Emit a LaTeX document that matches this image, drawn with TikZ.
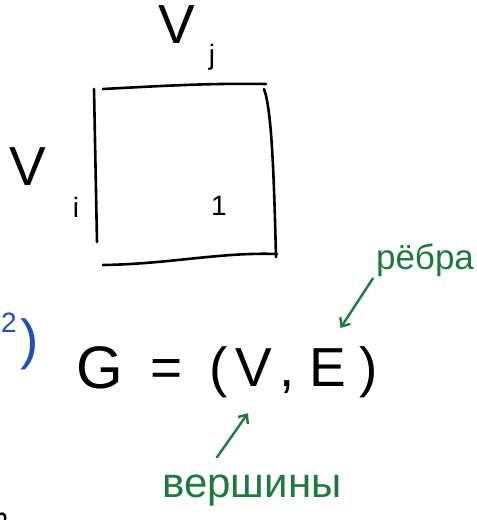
\documentclass[tikz,border=0pt]{standalone}
\usepackage{fontspec}
\setmainfont{Liberation Sans}
\usetikzlibrary{arrows.meta}
\definecolor{inkgreen}{RGB}{30,122,60}
\definecolor{inkblue}{RGB}{30,80,190}

\begin{document}
\begin{tikzpicture}[x=1pt, y=-1pt, line cap=round, line join=round,
	every node/.style={inner sep=0pt, anchor=base},
	big/.style={font=\fontsize{55}{60}\selectfont},
	small/.style={font=\fontsize{28}{32}\selectfont},
	note/.style={inkgreen, font=\fontsize{35}{38}\selectfont},
	arr/.style={inkgreen, line width=2.4pt, -{Straight Barb[length=7pt, width=12pt, line width=2.4pt]}}]
	\useasboundingbox (0,0) rectangle (477,520);
	% matrix V x V
	\node[big] (colset) at (177,43) {V};
	\node[small] (colj) at (212,64) {j};
	\node[big] (rowset) at (28,185) {V};
	\node[small] (rowi) at (76,217) {i};
	\node[small] (one) at (219,215) {1};
	\draw[line width=2.6pt] (94,89) -- (97,242);
	\draw[line width=2.6pt] (103,89) .. controls (160,86) and (210,83) .. (266,84);
	\draw[line width=2.6pt] (264,89) .. controls (272,110) and (274,180) .. (276,257);
	\draw[line width=2.6pt] (103,265) .. controls (170,264) and (220,252) .. (277,254);
	% G = (V, E)
	\node[big, font=\fontsize{60}{64}\selectfont] (G) at (100,388) {G};
	\node[big] (eq) at (167,386) {=};
	\node[big] (lp) at (219,386) {(};
	\node[big] (Vv) at (254,386) {V};
	\node[big] (comma) at (287,386) {,};
	\node[big] (E) at (328,386) {E};
	\node[big] (rp) at (369,386) {)};
	% green notes
	\node[note] (edges) at (425,269) {рёбра};
	\node[note, font=\fontsize{42}{46}\selectfont] (verts) at (252,497) {вершины};
	\draw[arr] ([xshift=-3pt, yshift=-2pt]edges.south west) -- ([xshift=-6pt, yshift=20pt]E.north east);
	\draw[arr] ([xshift=-35pt, yshift=17pt]verts.north) -- ([xshift=-6pt, yshift=-27pt]Vv.south);
	% blue, at the left edge
	\node[inkblue, small, anchor=base west] (two) at (1,332) {2};
	\node[inkblue, big] (rparen) at (30,358) {)};
	\draw[line width=2.4pt] (0,514) .. controls (4,512) and (6,516) .. (5,520);
\end{tikzpicture}
\end{document}
